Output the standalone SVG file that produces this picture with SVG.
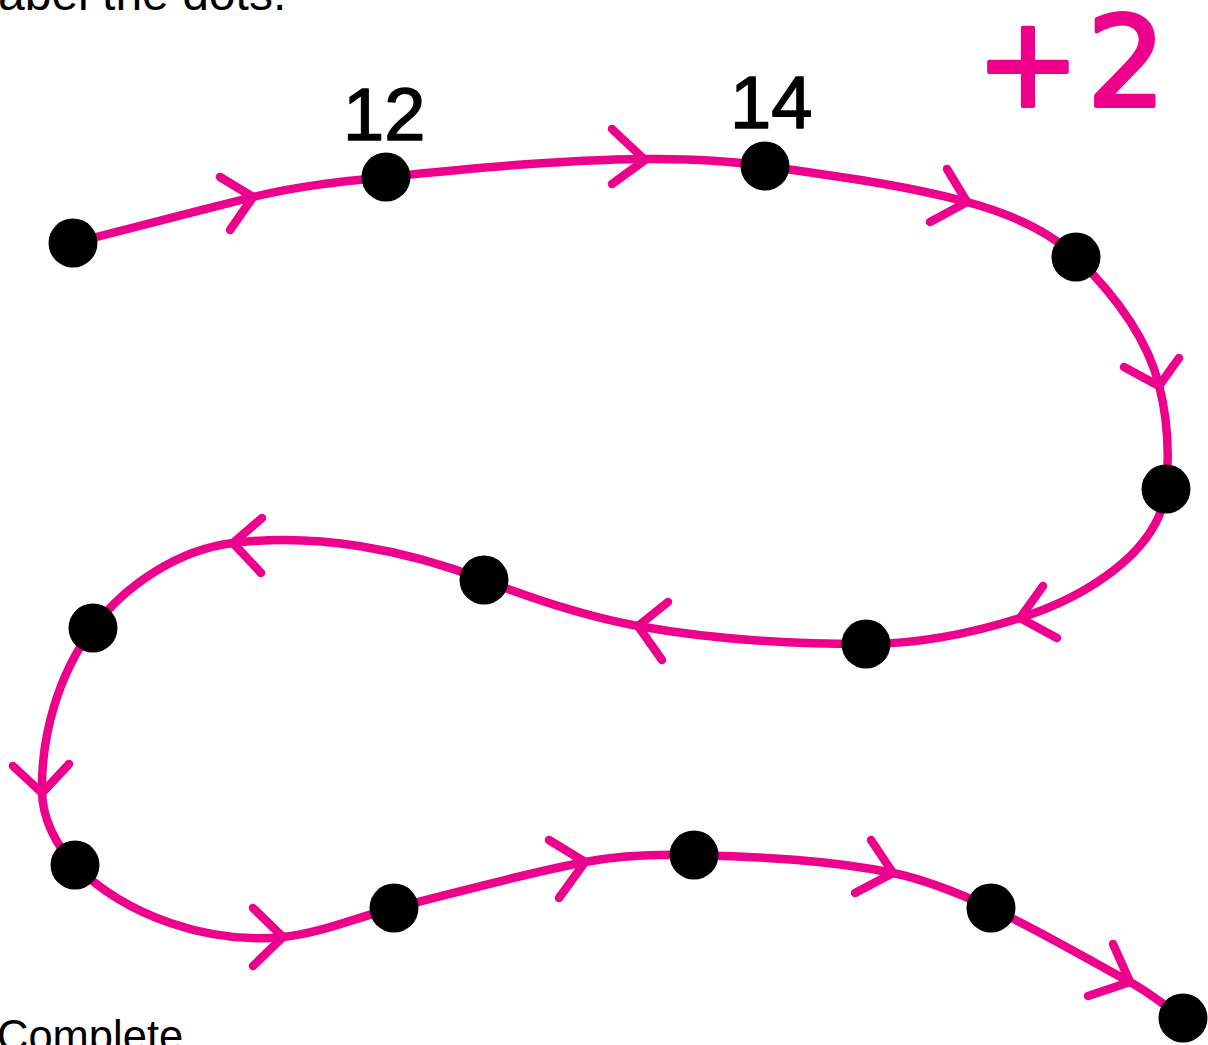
<svg xmlns="http://www.w3.org/2000/svg" width="1208" height="1045" viewBox="0 0 1208 1045">
<style>
.curve{fill:none;stroke:#ec008c;stroke-width:8.5;stroke-linecap:round;stroke-linejoin:round}
.chev{fill:none;stroke:#ec008c;stroke-width:8.5;stroke-linecap:round;stroke-linejoin:round}
.dot{fill:#000}
.caption{font-family:"Liberation Sans",Arial,sans-serif;fill:#000}
.num{font-family:"Liberation Sans",Arial,sans-serif;font-size:74px;fill:#000;stroke:#000;stroke-width:1.5;stroke-linejoin:round}
.rule{font-family:"DejaVu Sans",sans-serif;font-size:124px;fill:#ec008c;stroke:#ec008c;stroke-width:4;stroke-linejoin:round;letter-spacing:7px}
</style>
<rect width="1208" height="1045" fill="#fff"/>
<text class="caption" x="-2" y="10" font-size="48">abel the dots.</text>
<text class="caption" x="-3" y="1051" font-size="43.5">Complete</text>
<text class="rule" x="976" y="106">+2</text>
<g id="connectors">
<path class="curve" d="M73,243 C133,227.4 192.9,211.9 253,197 C296.5,186.2 341.4,181.5 386,177 C472.1,168.3 558.5,159.9 645,159 C685,158.6 725.4,160.2 765,166 C832.7,175.9 901,184.2 967,202 C1006.3,212.6 1046.8,228.6 1076,257 C1112.5,292.5 1146.3,335.6 1159,385 C1167.7,418.7 1169.5,454.5 1166,489 C1159.5,553.6 1081.7,598.5 1020,618 C970.6,633.6 918,644 866,644 C790,644 712.9,639.7 638,626 C585.3,616.4 533.8,599.3 484,580 C405.3,549.5 316.8,532.8 233,543 C178.9,549.6 125.8,584.3 93,628 C58.7,673.8 40.9,734.8 42,792 C42.5,818.7 56.3,846 75,865 C126.3,917 210.4,944.3 283,937 C320.8,933.2 356.9,917.2 394,908 C457.5,892.3 520.8,874.4 585,862 C620.7,855.1 657.6,853.9 694,855 C760.6,857 827.7,859.7 893,873 C927,879.9 959.5,893.5 991,908 C1038.7,929.9 1083.8,957.3 1130,982 C1148.7,992 1165.3,1006.1 1183,1018"/>
<polyline class="chev" points="220,177 253,197 230,230"/>
<polyline class="chev" points="612,129 645,160 612,184"/>
<polyline class="chev" points="947,169 967,202 930,222"/>
<polyline class="chev" points="1124,367 1159,386 1179,358"/>
<polyline class="chev" points="1043,586 1020,618 1057,638"/>
<polyline class="chev" points="668,602 638,626 662,660"/>
<polyline class="chev" points="262,518 233,543 261,573"/>
<polyline class="chev" points="13,766 42,793 69,764"/>
<polyline class="chev" points="253,908 283,937 253,966"/>
<polyline class="chev" points="549,840 585,862 559,898"/>
<polyline class="chev" points="871,840 893,873 855,893"/>
<polyline class="chev" points="1113,944 1130,982 1088,996"/>
</g>
<g id="dot1"><circle class="dot" cx="73" cy="243" r="24.5"/></g>
<g id="dot2"><circle class="dot" cx="386" cy="177" r="24.5"/><text class="num" x="343" y="140">12</text></g>
<g id="dot3"><circle class="dot" cx="765" cy="166" r="24.5"/><text class="num" x="730" y="128">14</text></g>
<g id="dot4"><circle class="dot" cx="1076" cy="257" r="24.5"/></g>
<g id="dot5"><circle class="dot" cx="1166" cy="489" r="24.5"/></g>
<g id="dot6"><circle class="dot" cx="866" cy="644" r="24.5"/></g>
<g id="dot7"><circle class="dot" cx="484" cy="580" r="24.5"/></g>
<g id="dot8"><circle class="dot" cx="93" cy="628" r="24.5"/></g>
<g id="dot9"><circle class="dot" cx="75" cy="865" r="24.5"/></g>
<g id="dot10"><circle class="dot" cx="394" cy="908" r="24.5"/></g>
<g id="dot11"><circle class="dot" cx="694" cy="855" r="24.5"/></g>
<g id="dot12"><circle class="dot" cx="991" cy="908" r="24.5"/></g>
<g id="dot13"><circle class="dot" cx="1183" cy="1018" r="24.5"/></g>
</svg>
